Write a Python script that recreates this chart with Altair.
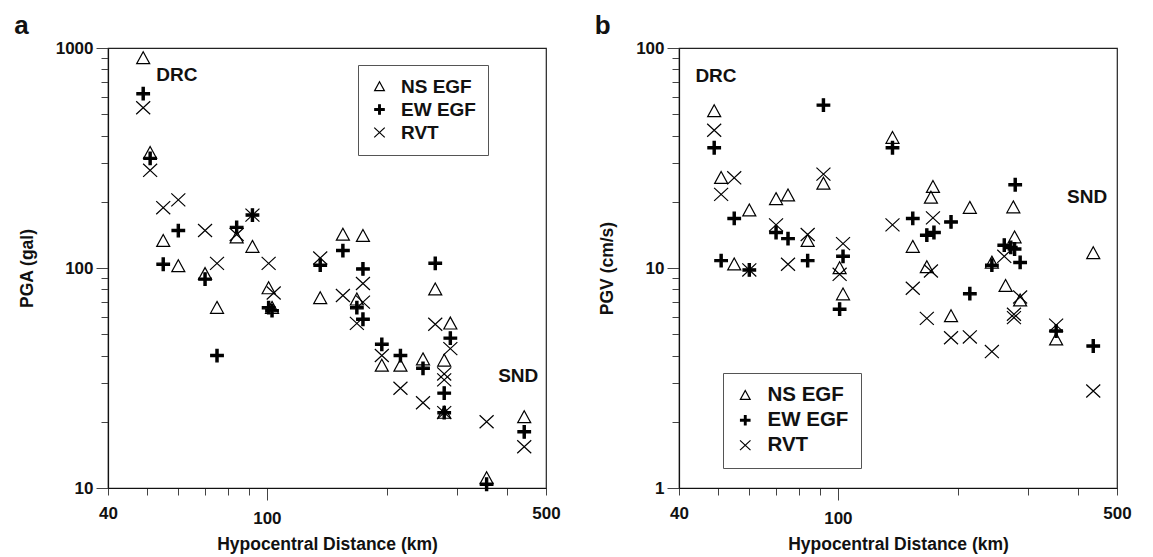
import altair as alt
import pandas as pd

FONT = "Liberation Sans"
series = ["NS EGF", "EW EGF", "RVT"]

# ---- Panel a: PGA (gal) ----
pga_ns_dist = [49, 51, 55, 60, 70, 75, 84, 92, 101, 103, 136, 155, 168, 174, 194, 216, 246, 264, 278, 288, 278, 355, 441]
pga_ns = [900, 334, 133, 102, 94, 66, 138, 125, 81, 66, 73, 142, 72, 140, 36, 36, 38.5, 80, 38, 56, 22, 11.1, 21]

pga_ew_dist = [49, 51, 55, 60, 70, 75, 84, 92, 101, 103, 136, 155, 168, 174, 174, 194, 216, 246, 264, 288, 278, 278, 355, 441]
pga_ew = [620, 315, 104, 148, 89, 40, 153, 174, 66, 64, 103, 120, 66, 99, 58.5, 45, 40, 35, 105, 48, 27, 22, 10.4, 18]

pga_rvt_dist = [49, 51, 55, 60, 70, 75, 84, 92, 101, 104, 136, 155, 168, 174, 174, 194, 216, 246, 264, 288, 278, 278, 278, 355, 441]
pga_rvt = [535, 278, 188, 204, 148, 105, 142, 174, 105, 77, 111, 75, 56, 85, 70, 40, 28.4, 24.4, 55.5, 43, 33, 31, 22, 20, 15.4]

# ---- Panel b: PGV (cm/s) ----
pgv_ns_dist = [49, 51, 55, 60, 70, 75, 84, 92, 101, 103, 137, 154, 167, 171, 173, 192, 214, 243, 263, 275, 277, 286, 352, 436]
pgv_ns = [51.7, 25.7, 10.4, 18.3, 20.6, 21.4, 13.3, 24.2, 10.0, 7.6, 39.1, 12.5, 10.1, 20.9, 23.4, 6.05, 18.8, 10.6, 8.3, 18.9, 13.8, 7.13, 4.74, 11.7]

pgv_ew_dist = [49, 51, 55, 60, 70, 75, 84, 92, 101, 103, 137, 154, 167, 174, 192, 214, 243, 261, 271, 277, 278, 286, 352, 436]
pgv_ew = [35.2, 10.8, 16.8, 9.8, 14.5, 13.6, 10.8, 55, 6.5, 11.3, 35.2, 16.8, 14.1, 14.5, 16.2, 7.64, 10.3, 12.7, 12.4, 12.2, 23.9, 10.6, 5.17, 4.42]

pgv_rvt_dist = [49, 51, 55, 60, 70, 75, 84, 92, 101, 103, 137, 154, 167, 171, 173, 192, 214, 243, 261, 276, 276, 286, 352, 436]
pgv_rvt = [42.3, 21.6, 25.7, 9.8, 15.7, 10.4, 14.2, 26.7, 9.36, 12.9, 15.7, 8.09, 5.9, 9.69, 16.9, 4.82, 4.86, 4.17, 11.3, 6.16, 5.95, 7.38, 5.5, 2.76]

# ---- annotations ----
ann_a_text = ["DRC", "SND"]
ann_a_dist = [59.5, 426]
ann_a_val = [750, 32.3]
ann_b_text = ["DRC", "SND"]
ann_b_dist = [49.5, 421]
ann_b_val = [74.6, 21]

x_ticks = [40, 50, 60, 70, 80, 90, 100, 200, 300, 400, 500]
pga_ticks = [10, 20, 30, 40, 50, 60, 70, 80, 90, 100, 200, 300, 400, 500, 600, 700, 800, 900, 1000]
pgv_ticks = [1, 2, 3, 4, 5, 6, 7, 8, 9, 10, 20, 30, 40, 50, 60, 70, 80, 90, 100]

TRI = "M0,-0.9L0.93,0.8L-0.93,0.8Z"
PLUS = "M-0.16,-0.9H0.16V-0.16H0.9V0.16H0.16V0.9H-0.16V0.16H-0.9V-0.16H-0.16Z"
XS = "M-1,-0.93L1,0.93M-1,0.93L1,-0.93"


def make_df(groups):
    rows = []
    for name, dists, vals in groups:
        for d, v in zip(dists, vals):
            rows.append({"dist": d, "value": v, "series": name})
    return pd.DataFrame(rows)


df_a = make_df([("NS EGF", pga_ns_dist, pga_ns), ("EW EGF", pga_ew_dist, pga_ew), ("RVT", pga_rvt_dist, pga_rvt)])
df_b = make_df([("NS EGF", pgv_ns_dist, pgv_ns), ("EW EGF", pgv_ew_dist, pgv_ew), ("RVT", pgv_rvt_dist, pgv_rvt)])
ann_a = pd.DataFrame({"dist": ann_a_dist, "value": ann_a_val, "text": ann_a_text})
ann_b = pd.DataFrame({"dist": ann_b_dist, "value": ann_b_val, "text": ann_b_text})


def panel(df, ann, ytitle, ydomain, yticks, decades, leg_x, leg_y, leg_font, leg_pad, leg_row, letter):
    dec_test = " || ".join(f"datum.value == {d}" for d in decades)
    x = alt.X("dist:Q", title="Hypocentral Distance (km)",
              scale=alt.Scale(type="log", domain=[40, 500], nice=False),
              axis=alt.Axis(values=x_ticks,
                            labelExpr="datum.value == 40 || datum.value == 100 || datum.value == 500 ? datum.value : ''",
                            tickSize={"condition": {"test": "datum.value == 100", "value": 12}, "value": 7},
                            labelFlush=False, labelOverlap=False,
                            labelPadding=10, titlePadding=9, labelAngle=0))
    y = alt.Y("value:Q", title=ytitle,
              scale=alt.Scale(type="log", domain=ydomain, nice=False),
              axis=alt.Axis(values=yticks,
                            labelExpr=f"{dec_test} ? datum.value : ''",
                            tickSize={"condition": {"test": dec_test, "value": 12}, "value": 7},
                            labelFlush=False, labelOverlap=False,
                            labelPadding=3, titlePadding=19))
    legend = alt.Legend(title=None, orient="none", legendX=leg_x, legendY=leg_y,
                        labelFontSize=leg_font, padding=leg_pad, rowPadding=leg_row,
                        symbolSize=110, labelOffset=12)
    pts = alt.Chart(df).mark_point(filled=False, strokeWidth=1.2, size=196, opacity=1).encode(
        x=x, y=y,
        shape=alt.Shape("series:N", scale=alt.Scale(domain=series, range=[TRI, PLUS, XS]), legend=legend),
        fill=alt.Fill("series:N", scale=alt.Scale(domain=series, range=["transparent", "black", "transparent"]), legend=legend),
        stroke=alt.Stroke("series:N", scale=alt.Scale(domain=series, range=["black", "black", "black"]), legend=legend),
    )
    txt = alt.Chart(ann).mark_text(font=FONT, fontWeight="bold", fontSize=19, color="#111").encode(
        x=alt.X("dist:Q"), y=alt.Y("value:Q"), text="text:N")
    return alt.layer(pts, txt).properties(
        width=438, height=440,
        title=alt.TitleParams(text=letter, anchor="start", fontSize=26, fontWeight="bold", font=FONT,
                              color="#111", offset=0, dx=-4))


pa = panel(df_a, ann_a, "PGA (gal)", [10, 1000], pga_ticks, [10, 100, 1000], 250, 17, 19, 12, 3, "a")
pb = panel(df_b, ann_b, "PGV (cm/s)", [1, 100], pgv_ticks, [1, 10, 100], 44, 325, 20.5, 12, 4, "b")

chart = alt.hconcat(pa, pb, spacing=33).resolve_scale(
    x="independent", y="independent", shape="independent", fill="independent", stroke="independent"
).resolve_legend(shape="independent", fill="independent", stroke="independent").properties(
    padding={"left": 5, "top": 4, "right": 5, "bottom": 0}
).configure_view(stroke="#222", strokeWidth=1.2).configure_axis(
    grid=False, domainColor="#111", domainWidth=1.2, tickColor="#444", tickWidth=1,
    labelFont=FONT, labelFontWeight="bold", labelFontSize=17, labelColor="#111",
    titleFont=FONT, titleFontWeight="bold", titleFontSize=17.5, titleColor="#111"
).configure_legend(
    labelFont=FONT, labelFontWeight="bold", labelColor="#111",
    strokeColor="#555", fillColor="white", symbolStrokeColor="black", symbolStrokeWidth=1.2
)

chart.save("out.html", embed_options={"renderer": "svg", "actions": False})
